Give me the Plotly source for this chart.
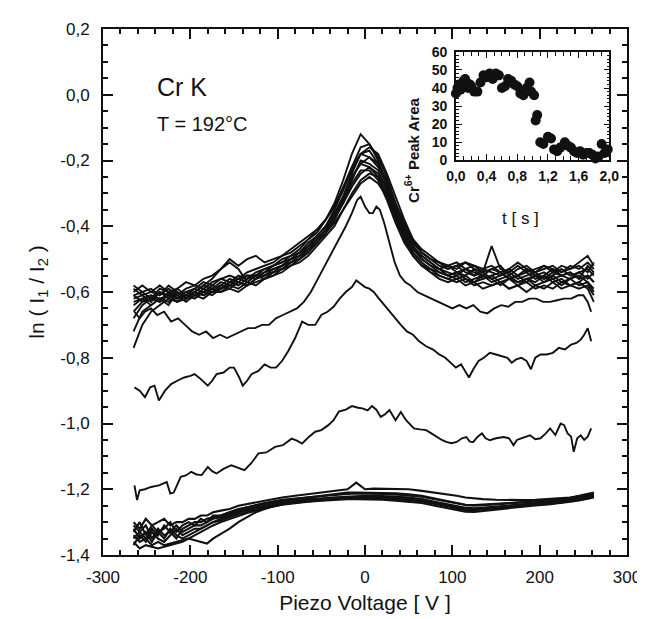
import plotly.graph_objects as go

# ---------------- main plot data ----------------
X_UP = [-265,-255,-245,-235,-225,-215,-205,-195,-185,-175,
        -165,-155,-145,-135,-125,-115,-105,-95,-85,-75,
        -65,-55,-45,-35,-25,-15,-5,5,15,25,
        35,45,55,65,75,85,95,105,115,125,
        135,145,155,165,175,185,195,205,215,225,
        235,245,255,262]

U1 = [-0.61,-0.60,-0.62,-0.59,-0.60,-0.61,-0.59,-0.58,-0.59,-0.57,
      -0.56,-0.57,-0.55,-0.56,-0.54,-0.53,-0.52,-0.50,-0.49,-0.47,
      -0.44,-0.42,-0.38,-0.33,-0.26,-0.18,-0.12,-0.15,-0.19,-0.25,
      -0.33,-0.40,-0.45,-0.48,-0.50,-0.52,-0.53,-0.52,-0.54,-0.55,
      -0.53,-0.54,-0.55,-0.54,-0.56,-0.55,-0.54,-0.56,-0.55,-0.53,
      -0.55,-0.54,-0.53,-0.55]
U2 = [-0.58,-0.60,-0.59,-0.61,-0.58,-0.60,-0.62,-0.60,-0.58,-0.59,
      -0.58,-0.56,-0.57,-0.55,-0.55,-0.54,-0.52,-0.51,-0.50,-0.48,
      -0.46,-0.43,-0.40,-0.35,-0.29,-0.22,-0.16,-0.15,-0.20,-0.27,
      -0.34,-0.41,-0.46,-0.49,-0.51,-0.53,-0.52,-0.54,-0.55,-0.53,
      -0.56,-0.55,-0.54,-0.56,-0.55,-0.57,-0.55,-0.54,-0.56,-0.55,
      -0.54,-0.56,-0.52,-0.54]
U3 = [-0.68,-0.64,-0.62,-0.63,-0.61,-0.62,-0.60,-0.61,-0.60,-0.58,
      -0.59,-0.57,-0.58,-0.56,-0.55,-0.55,-0.53,-0.52,-0.50,-0.49,
      -0.47,-0.44,-0.41,-0.37,-0.31,-0.24,-0.18,-0.17,-0.21,-0.28,
      -0.36,-0.42,-0.47,-0.50,-0.52,-0.54,-0.55,-0.54,-0.56,-0.57,
      -0.55,-0.56,-0.58,-0.56,-0.57,-0.56,-0.58,-0.57,-0.55,-0.57,
      -0.56,-0.58,-0.57,-0.60]
U4 = [-0.62,-0.61,-0.63,-0.60,-0.62,-0.59,-0.61,-0.60,-0.58,-0.56,
      -0.53,-0.51,-0.53,-0.57,-0.55,-0.53,-0.52,-0.51,-0.49,-0.48,
      -0.45,-0.43,-0.40,-0.36,-0.31,-0.25,-0.21,-0.19,-0.21,-0.26,
      -0.33,-0.39,-0.44,-0.48,-0.50,-0.51,-0.53,-0.52,-0.51,-0.53,
      -0.54,-0.46,-0.53,-0.54,-0.52,-0.54,-0.53,-0.52,-0.54,-0.52,
      -0.53,-0.51,-0.49,-0.52]
U5 = [-0.72,-0.66,-0.64,-0.62,-0.63,-0.61,-0.63,-0.61,-0.62,-0.60,
      -0.60,-0.59,-0.60,-0.58,-0.57,-0.56,-0.55,-0.53,-0.52,-0.50,
      -0.48,-0.45,-0.42,-0.38,-0.32,-0.26,-0.20,-0.21,-0.23,-0.29,
      -0.36,-0.43,-0.48,-0.51,-0.54,-0.55,-0.56,-0.57,-0.56,-0.58,
      -0.57,-0.58,-0.57,-0.59,-0.58,-0.57,-0.59,-0.58,-0.59,-0.57,
      -0.58,-0.59,-0.58,-0.61]
U6 = [-0.64,-0.62,-0.61,-0.63,-0.60,-0.62,-0.61,-0.59,-0.60,-0.59,
      -0.57,-0.58,-0.56,-0.55,-0.56,-0.54,-0.53,-0.52,-0.50,-0.49,
      -0.46,-0.44,-0.41,-0.37,-0.33,-0.28,-0.24,-0.22,-0.24,-0.29,
      -0.35,-0.42,-0.46,-0.50,-0.52,-0.53,-0.55,-0.54,-0.53,-0.55,
      -0.54,-0.56,-0.55,-0.53,-0.55,-0.54,-0.56,-0.55,-0.53,-0.55,
      -0.54,-0.56,-0.55,-0.57]
U7 = [-0.77,-0.70,-0.66,-0.64,-0.62,-0.63,-0.61,-0.62,-0.60,-0.61,
      -0.59,-0.58,-0.59,-0.57,-0.58,-0.56,-0.55,-0.54,-0.52,-0.51,
      -0.49,-0.46,-0.43,-0.40,-0.35,-0.30,-0.26,-0.24,-0.25,-0.30,
      -0.37,-0.44,-0.49,-0.52,-0.54,-0.56,-0.57,-0.56,-0.58,-0.57,
      -0.59,-0.58,-0.57,-0.59,-0.58,-0.60,-0.58,-0.59,-0.57,-0.59,
      -0.58,-0.57,-0.59,-0.63]
U8 = [-0.59,-0.61,-0.60,-0.58,-0.60,-0.59,-0.57,-0.58,-0.56,-0.55,
      -0.53,-0.50,-0.52,-0.50,-0.49,-0.51,-0.50,-0.49,-0.47,-0.45,
      -0.43,-0.41,-0.38,-0.34,-0.28,-0.22,-0.18,-0.19,-0.22,-0.27,
      -0.34,-0.40,-0.45,-0.48,-0.50,-0.51,-0.52,-0.53,-0.51,-0.52,
      -0.53,-0.52,-0.54,-0.53,-0.51,-0.53,-0.54,-0.52,-0.53,-0.54,
      -0.52,-0.53,-0.51,-0.53]
U9 = [-0.63,-0.62,-0.64,-0.62,-0.61,-0.63,-0.62,-0.60,-0.61,-0.60,
      -0.58,-0.59,-0.57,-0.58,-0.56,-0.55,-0.54,-0.53,-0.51,-0.50,
      -0.48,-0.45,-0.42,-0.39,-0.35,-0.31,-0.27,-0.25,-0.27,-0.31,
      -0.38,-0.44,-0.48,-0.51,-0.53,-0.54,-0.55,-0.56,-0.55,-0.57,
      -0.56,-0.55,-0.57,-0.56,-0.58,-0.56,-0.57,-0.55,-0.57,-0.56,
      -0.58,-0.57,-0.55,-0.57]
U10 = [-0.61,-0.63,-0.61,-0.62,-0.64,-0.60,-0.62,-0.61,-0.59,-0.60,
       -0.59,-0.57,-0.56,-0.57,-0.55,-0.56,-0.54,-0.52,-0.51,-0.49,
       -0.47,-0.44,-0.41,-0.37,-0.31,-0.25,-0.21,-0.22,-0.25,-0.31,
       -0.37,-0.43,-0.47,-0.49,-0.51,-0.53,-0.54,-0.55,-0.53,-0.54,
       -0.55,-0.53,-0.54,-0.56,-0.55,-0.53,-0.55,-0.56,-0.54,-0.55,
       -0.56,-0.54,-0.56,-0.54]
U11 = [-0.60,-0.58,-0.60,-0.61,-0.59,-0.61,-0.60,-0.59,-0.57,-0.58,
       -0.56,-0.55,-0.56,-0.54,-0.53,-0.52,-0.51,-0.49,-0.48,-0.46,
       -0.44,-0.41,-0.38,-0.34,-0.29,-0.23,-0.18,-0.16,-0.18,-0.24,
       -0.31,-0.38,-0.44,-0.47,-0.49,-0.51,-0.52,-0.51,-0.53,-0.52,
       -0.54,-0.53,-0.52,-0.55,-0.53,-0.52,-0.54,-0.53,-0.52,-0.54,
       -0.53,-0.52,-0.54,-0.51]
U12 = [-0.66,-0.63,-0.62,-0.60,-0.61,-0.60,-0.62,-0.60,-0.61,-0.59,
       -0.60,-0.58,-0.57,-0.58,-0.56,-0.55,-0.54,-0.53,-0.51,-0.50,
       -0.47,-0.45,-0.42,-0.38,-0.33,-0.27,-0.23,-0.23,-0.26,-0.32,
       -0.39,-0.45,-0.49,-0.52,-0.53,-0.55,-0.56,-0.55,-0.57,-0.56,
       -0.55,-0.57,-0.56,-0.55,-0.57,-0.56,-0.55,-0.57,-0.56,-0.58,
       -0.56,-0.55,-0.57,-0.59]

C2_X = [-264,-258,-252,-245,-238,-230,-222,-214,-206,-198,
        -190,-182,-174,-166,-158,-150,-142,-134,-126,-118,
        -110,-102,-94,-86,-78,-70,-62,-54,-46,-38,
        -30,-22,-15,-9,-5,0,5,9,13,17,
        22,28,34,40,46,52,60,68,76,84,
        92,100,108,116,124,132,140,148,156,164,
        172,180,188,196,204,212,220,228,236,244,
        250,255,259]
C2_Y = [-0.66,-0.68,-0.66,-0.65,-0.67,-0.66,-0.69,-0.68,-0.70,-0.72,
        -0.73,-0.72,-0.74,-0.73,-0.74,-0.73,-0.72,-0.71,-0.71,-0.70,
        -0.70,-0.68,-0.67,-0.66,-0.65,-0.63,-0.60,-0.56,-0.52,-0.48,
        -0.44,-0.40,-0.36,-0.32,-0.31,-0.34,-0.36,-0.36,-0.34,-0.35,
        -0.39,-0.45,-0.51,-0.55,-0.57,-0.58,-0.60,-0.61,-0.62,-0.63,
        -0.64,-0.65,-0.64,-0.65,-0.64,-0.66,-0.665,-0.65,-0.64,-0.645,
        -0.63,-0.63,-0.62,-0.62,-0.63,-0.63,-0.625,-0.62,-0.62,-0.61,
        -0.61,-0.63,-0.66]

C3_X = [-264,-258,-252,-246,-241,-236,-229,-222,-215,-207,
        -200,-195,-188,-180,-175,-170,-162,-155,-150,-144,
        -140,-135,-130,-122,-115,-108,-102,-95,-88,-80,
        -72,-65,-57,-50,-43,-36,-29,-22,-15,-10,
        -5,0,5,10,16,22,28,34,41,48,
        55,62,70,78,85,92,98,104,110,115,
        119,124,130,136,143,150,157,163,168,173,
        179,185,190,195,201,208,215,222,229,236,
        242,247,251,255,259]
C3_Y = [-0.89,-0.90,-0.92,-0.89,-0.885,-0.93,-0.90,-0.88,-0.87,-0.86,
        -0.855,-0.85,-0.865,-0.885,-0.87,-0.85,-0.845,-0.83,-0.83,-0.86,
        -0.885,-0.87,-0.85,-0.84,-0.82,-0.83,-0.83,-0.81,-0.78,-0.74,
        -0.69,-0.70,-0.70,-0.67,-0.66,-0.645,-0.62,-0.60,-0.585,-0.565,
        -0.575,-0.585,-0.59,-0.60,-0.62,-0.64,-0.66,-0.68,-0.70,-0.72,
        -0.73,-0.75,-0.765,-0.775,-0.79,-0.80,-0.815,-0.83,-0.82,-0.84,
        -0.86,-0.835,-0.81,-0.80,-0.785,-0.79,-0.795,-0.80,-0.815,-0.805,
        -0.80,-0.81,-0.835,-0.80,-0.79,-0.79,-0.785,-0.77,-0.775,-0.76,
        -0.755,-0.745,-0.73,-0.71,-0.75]

C4_X = [-264,-261,-258,-252,-245,-236,-227,-223,-219,-215,
        -211,-205,-199,-193,-187,-180,-175,-170,-162,-153,
        -145,-138,-130,-122,-113,-103,-94,-84,-78,-72,
        -64,-57,-50,-42,-36,-30,-22,-15,-8,-3,
        3,8,13,18,23,28,35,41,47,56,
        63,70,76,82,88,93,99,105,111,116,
        120,124,129,134,138,143,150,159,165,170,
        174,178,184,189,195,201,207,212,218,224,
        228,232,236,239,243,247,251,255,259]
C4_Y = [-1.188,-1.233,-1.203,-1.20,-1.193,-1.188,-1.178,-1.213,-1.21,-1.185,
        -1.162,-1.158,-1.147,-1.155,-1.157,-1.132,-1.145,-1.152,-1.138,-1.127,
        -1.135,-1.142,-1.12,-1.091,-1.088,-1.071,-1.066,-1.046,-1.052,-1.061,
        -1.04,-1.025,-1.02,-1.005,-0.99,-0.964,-0.958,-0.947,-0.952,-0.954,
        -0.96,-0.947,-0.958,-0.98,-0.972,-0.959,-0.99,-0.965,-0.99,-1.015,
        -1.018,-1.02,-1.03,-1.041,-1.05,-1.056,-1.06,-1.056,-1.045,-1.041,
        -1.055,-1.056,-1.04,-1.03,-1.045,-1.051,-1.045,-1.041,-1.045,-1.066,
        -1.05,-1.046,-1.04,-1.036,-1.048,-1.045,-1.03,-1.015,-1.035,-1.0,
        -1.005,-1.03,-1.04,-1.086,-1.045,-1.036,-1.05,-1.04,-1.015]

X_LO = [-265,-258,-251,-244,-237,-230,-223,-216,-209,-202,
        -195,-188,-181,-174,-165,-155,-145,-135,-125,-115,
        -105,-95,-80,-65,-50,-35,-20,-10,0,10,
        20,35,50,65,80,95,105,115,125,135,
        150,165,180,195,210,225,235,245,255,262]
L1 = [-1.30,-1.32,-1.29,-1.31,-1.30,-1.29,-1.31,-1.30,-1.30,-1.29,
      -1.29,-1.28,-1.28,-1.27,-1.265,-1.26,-1.25,-1.245,-1.24,-1.235,
      -1.23,-1.225,-1.22,-1.215,-1.21,-1.205,-1.20,-1.18,-1.20,-1.198,
      -1.198,-1.20,-1.20,-1.205,-1.21,-1.215,-1.22,-1.225,-1.228,-1.23,
      -1.232,-1.233,-1.233,-1.232,-1.23,-1.228,-1.225,-1.22,-1.215,-1.21]
L2 = [-1.33,-1.30,-1.34,-1.31,-1.33,-1.32,-1.30,-1.33,-1.31,-1.30,
      -1.31,-1.29,-1.30,-1.28,-1.28,-1.27,-1.26,-1.255,-1.25,-1.245,
      -1.24,-1.235,-1.23,-1.225,-1.22,-1.215,-1.21,-1.21,-1.21,-1.21,
      -1.21,-1.212,-1.215,-1.22,-1.228,-1.236,-1.242,-1.247,-1.248,-1.247,
      -1.245,-1.242,-1.24,-1.238,-1.235,-1.232,-1.228,-1.225,-1.22,-1.215]
L3 = [-1.35,-1.33,-1.31,-1.35,-1.32,-1.34,-1.33,-1.31,-1.33,-1.32,
      -1.31,-1.31,-1.30,-1.29,-1.285,-1.275,-1.265,-1.26,-1.255,-1.25,
      -1.245,-1.24,-1.235,-1.23,-1.228,-1.225,-1.222,-1.22,-1.22,-1.22,
      -1.22,-1.222,-1.225,-1.23,-1.238,-1.246,-1.252,-1.256,-1.258,-1.256,
      -1.252,-1.248,-1.245,-1.242,-1.24,-1.237,-1.233,-1.23,-1.225,-1.22]
L4 = [-1.37,-1.34,-1.36,-1.33,-1.35,-1.36,-1.34,-1.32,-1.34,-1.33,
      -1.32,-1.32,-1.31,-1.30,-1.295,-1.285,-1.275,-1.27,-1.262,-1.256,
      -1.25,-1.245,-1.24,-1.236,-1.233,-1.23,-1.228,-1.227,-1.227,-1.227,
      -1.228,-1.23,-1.233,-1.237,-1.244,-1.252,-1.259,-1.263,-1.264,-1.262,
      -1.258,-1.254,-1.25,-1.247,-1.244,-1.24,-1.236,-1.232,-1.228,-1.222]
L5 = [-1.34,-1.36,-1.35,-1.37,-1.36,-1.37,-1.365,-1.36,-1.355,-1.35,
      -1.355,-1.36,-1.365,-1.35,-1.335,-1.32,-1.30,-1.285,-1.27,-1.26,
      -1.252,-1.247,-1.242,-1.238,-1.235,-1.232,-1.23,-1.23,-1.23,-1.23,
      -1.232,-1.235,-1.238,-1.242,-1.25,-1.258,-1.264,-1.268,-1.269,-1.266,
      -1.261,-1.256,-1.252,-1.249,-1.246,-1.242,-1.238,-1.234,-1.23,-1.225]
L6 = [-1.36,-1.38,-1.37,-1.375,-1.38,-1.375,-1.37,-1.365,-1.36,-1.35,
      -1.34,-1.33,-1.32,-1.31,-1.30,-1.29,-1.28,-1.272,-1.265,-1.258,
      -1.252,-1.246,-1.24,-1.235,-1.232,-1.229,-1.226,-1.225,-1.225,-1.225,
      -1.226,-1.228,-1.23,-1.234,-1.241,-1.249,-1.256,-1.26,-1.262,-1.26,
      -1.256,-1.252,-1.248,-1.245,-1.242,-1.238,-1.234,-1.23,-1.226,-1.22]
L7 = [-1.31,-1.33,-1.35,-1.32,-1.34,-1.31,-1.33,-1.35,-1.32,-1.31,
      -1.30,-1.30,-1.29,-1.285,-1.28,-1.27,-1.262,-1.255,-1.248,-1.242,
      -1.237,-1.232,-1.228,-1.224,-1.22,-1.217,-1.214,-1.213,-1.213,-1.213,
      -1.214,-1.216,-1.219,-1.223,-1.23,-1.237,-1.243,-1.248,-1.25,-1.249,
      -1.246,-1.243,-1.24,-1.237,-1.234,-1.23,-1.226,-1.222,-1.218,-1.212]
L8 = [-1.32,-1.35,-1.33,-1.36,-1.33,-1.35,-1.32,-1.34,-1.35,-1.34,
      -1.33,-1.32,-1.31,-1.30,-1.29,-1.28,-1.27,-1.265,-1.258,-1.252,
      -1.246,-1.24,-1.236,-1.232,-1.228,-1.225,-1.223,-1.222,-1.222,-1.222,
      -1.223,-1.225,-1.228,-1.232,-1.24,-1.248,-1.255,-1.26,-1.261,-1.259,
      -1.255,-1.251,-1.247,-1.244,-1.241,-1.237,-1.233,-1.229,-1.225,-1.218]

X_TICKS = [-300, -200, -100, 0, 100, 200, 300]
X_TICKTEXT = ["-300", "-200", "-100", "0", "100", "200", "300"]
Y_TICKS = [0.2, 0.0, -0.2, -0.4, -0.6, -0.8, -1.0, -1.2, -1.4]
Y_TICKTEXT = ["0,2", "0,0", "-0,2", "-0,4", "-0,6", "-0,8", "-1,0", "-1,2", "-1,4"]

# ---------------- inset data ----------------
T_S = [0.00,0.02,0.04,0.06,0.08,0.10,0.12,0.14,0.16,0.18,
       0.20,0.24,0.28,0.32,0.36,0.40,0.44,0.48,0.52,0.56,
       0.60,0.64,0.68,0.72,0.76,0.80,0.84,0.88,0.92,0.96,
       0.98,1.02,1.04,1.06,1.10,1.14,1.20,1.24,1.28,1.32,
       1.36,1.42,1.46,1.50,1.54,1.58,1.62,1.66,1.70,1.74,
       1.78,1.82,1.86,1.90,1.94,1.98,2.02]
AREA = [37,40,42,39,41,44,45,43,40,42,
        41,38,38,43,47,46,48,45,48,47,
        40,41,45,44,42,41,37,36,40,43,
        38,36,22,25,10,9,13,12,6,5,
        7,10,8,7,5,4,5,3,4,4,
        3,1,2,9,4,6,5]
INSET_X_TICKS = [0.0, 0.4, 0.8, 1.2, 1.6, 2.0]
INSET_X_TICKTEXT = ["0,0", "0,4", "0,8", "1,2", "1,6", "2,0"]
INSET_Y_TICKS = [0, 10, 20, 30, 40, 50, 60]
INSET_Y_TICKTEXT = ["0", "10", "20", "30", "40", "50", "60"]

FONT = "Liberation Sans, Arial, Helvetica, sans-serif"
INK = "#111111"

fig = go.Figure()
LW = 1.9
for ys in [U1, U2, U3, U4, U5, U6, U7, U8, U9, U10, U11, U12]:
    fig.add_trace(go.Scatter(x=X_UP, y=ys, mode="lines",
                             line=dict(color=INK, width=LW), showlegend=False))
for xs, ys in [(C2_X, C2_Y), (C3_X, C3_Y), (C4_X, C4_Y)]:
    fig.add_trace(go.Scatter(x=xs, y=ys, mode="lines",
                             line=dict(color=INK, width=LW), showlegend=False))
for ys in [L1, L2, L3, L4, L5, L6, L7, L8]:
    fig.add_trace(go.Scatter(x=X_LO, y=ys, mode="lines",
                             line=dict(color=INK, width=LW + 0.2), showlegend=False))

fig.add_trace(go.Scatter(x=T_S, y=AREA, mode="markers", xaxis="x2", yaxis="y2",
                         marker=dict(color=INK, size=10), cliponaxis=False,
                         showlegend=False))

axis_common = dict(showline=True, linecolor=INK, linewidth=2, mirror="allticks",
                   ticks="inside", tickcolor=INK, tickwidth=1.5, showgrid=False,
                   zeroline=False, tickmode="array")

fig.update_layout(
    width=645, height=619,
    margin=dict(l=95, r=17, t=18, b=72),
    paper_bgcolor="white", plot_bgcolor="white",
    font=dict(family=FONT, color=INK),
    xaxis=dict(**axis_common, range=[-300, 300], tickvals=X_TICKS, ticktext=X_TICKTEXT,
               ticklen=10, tickfont=dict(size=17), ticklabelstandoff=6,
               minor=dict(ticks="inside", ticklen=5, tickmode="linear", tick0=0, dtick=20,
                          tickcolor=INK, tickwidth=1.5),
               title=dict(text="Piezo Voltage [ V ]", font=dict(size=21), standoff=9)),
    yaxis=dict(**axis_common, range=[-1.4, 0.2], tickvals=Y_TICKS, ticktext=Y_TICKTEXT,
               ticklen=10, tickfont=dict(size=17), ticklabelstandoff=8,
               minor=dict(ticks="inside", ticklen=5, tickmode="linear", tick0=0, dtick=0.05,
                          tickcolor=INK, tickwidth=1.5),
               title=dict(text="ln ( I<sub>1</sub> / I<sub>2</sub> )", font=dict(size=21),
                          standoff=10)),
    xaxis2=dict(showline=True, linecolor=INK, linewidth=1.5, mirror="allticks",
                ticks="inside", tickcolor=INK, tickwidth=1.2, showgrid=False, zeroline=False,
                tickmode="array", domain=[0.6735, 0.9662], anchor="y2", range=[0, 2.0],
                tickvals=INSET_X_TICKS, ticktext=INSET_X_TICKTEXT, ticklen=6,
                tickfont=dict(size=14, weight="bold"), ticklabelstandoff=2,
                minor=dict(ticks="inside", ticklen=4, tickmode="linear", tick0=0, dtick=0.1,
                           tickcolor=INK, tickwidth=1.2)),
    yaxis2=dict(showline=True, linecolor=INK, linewidth=1.5, mirror="allticks",
                ticks="inside", tickcolor=INK, tickwidth=1.2, showgrid=False, zeroline=False,
                tickmode="array", domain=[0.7505, 0.9565], anchor="x2", range=[0, 60],
                tickvals=INSET_Y_TICKS, ticktext=INSET_Y_TICKTEXT, ticklen=6,
                tickfont=dict(size=14, weight="bold"), ticklabelstandoff=4,
                minor=dict(ticks="inside", ticklen=3, tickmode="linear", tick0=0, dtick=2,
                           tickcolor=INK, tickwidth=1.0)),
    annotations=[
        dict(text="Cr K", x=0.0994, y=0.890, xref="paper", yref="paper", showarrow=False,
             xanchor="left", yanchor="middle", font=dict(size=25, color=INK)),
        dict(text="T = 192°C", x=0.0994, y=0.820, xref="paper", yref="paper", showarrow=False,
             xanchor="left", yanchor="middle", font=dict(size=20, color=INK)),
        dict(text="t [ s ]", x=0.8368, y=0.639, xref="paper", yref="paper", showarrow=False,
             font=dict(size=17, color=INK)),
        dict(text="Cr<sup>6+</sup> Peak Area", x=0.589, y=0.873, xref="paper", yref="paper",
             showarrow=False, textangle=-90, font=dict(size=15, color=INK, weight="bold")),
    ],
)

fig.write_html("out.html")
